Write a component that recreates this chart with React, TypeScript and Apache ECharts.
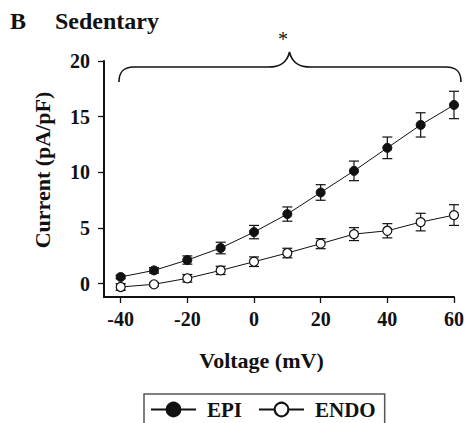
import React, { useEffect, useRef } from "react";
import * as echarts from "echarts";

const voltages = [-40, -30, -20, -10, 0, 10, 20, 30, 40, 50, 60];
const epiMean = [0.6, 1.19, 2.12, 3.2, 4.63, 6.25, 8.19, 10.13, 12.2, 14.26, 16.05];
const epiSem = [0.15, 0.25, 0.37, 0.52, 0.6, 0.64, 0.7, 0.88, 0.97, 1.09, 1.23];
const endoMean = [-0.3, -0.06, 0.48, 1.19, 1.97, 2.75, 3.59, 4.45, 4.75, 5.53, 6.16];
const endoSem = [0.3, 0.15, 0.34, 0.37, 0.43, 0.43, 0.45, 0.58, 0.64, 0.79, 0.93];
const xTicks = [-40, -20, 0, 20, 40, 60];
const yTicks = [0, 5, 10, 15, 20];

const FONT = "'Liberation Serif', 'Times New Roman', serif";
const INK = "#111";

const bracePath =
  "M119,82 C119,72 123,67 134,67 L268,67 C280,67 287,63 289.5,52 C292,63 299,67 311,67 L446,67 C457,67 461,72 461,82";

let registered = false;
function ensureShape() {
  if (registered) return;
  echarts.graphic.registerShape("brace", echarts.graphic.extendPath(bracePath, {}) as any);
  registered = true;
}

function errorSeries(mean: number[], sem: number[]) {
  return {
    type: "custom",
    z: 1,
    silent: true,
    data: voltages.map((v, i) => [v, mean[i] - sem[i], mean[i] + sem[i]]),
    renderItem: (params: any, api: any) => {
      const x = api.value(0);
      const lo = api.coord([x, api.value(1)]);
      const hi = api.coord([x, api.value(2)]);
      const cap = 5;
      const st = { stroke: INK, lineWidth: 1.2 };
      return {
        type: "group",
        children: [
          { type: "line", shape: { x1: lo[0], y1: lo[1], x2: hi[0], y2: hi[1] }, style: st },
          { type: "line", shape: { x1: hi[0] - cap, y1: hi[1], x2: hi[0] + cap, y2: hi[1] }, style: st },
          { type: "line", shape: { x1: lo[0] - cap, y1: lo[1], x2: lo[0] + cap, y2: lo[1] }, style: st },
        ],
      };
    },
  };
}

export default function App() {
  const ref = useRef<HTMLDivElement>(null);
  useEffect(() => {
    if (!ref.current) return;
    ensureShape();
    const chart = echarts.init(ref.current, undefined, { renderer: "svg" });
    chart.setOption({
      animation: false,
      backgroundColor: "#fff",
      title: [
        { text: "B", left: 5, top: 4, textStyle: { fontFamily: FONT, fontSize: 24, fontWeight: "bold", color: INK } },
        { text: "Sedentary", left: 50, top: 4, textStyle: { fontFamily: FONT, fontSize: 24, fontWeight: "bold", color: INK } },
      ],
      grid: { left: 104, right: 5, top: 61, bottom: 126 },
      xAxis: {
        type: "value",
        min: -45,
        max: 60,
        name: "Voltage (mV)",
        nameLocation: "middle",
        nameGap: 52,
        nameTextStyle: { fontFamily: FONT, fontSize: 22, fontWeight: "bold", color: INK, padding: [0, 35, 0, 0] },
        axisLine: { show: true, onZero: false, lineStyle: { color: INK, width: 2 } },
        axisTick: { show: true, customValues: xTicks, length: 6, lineStyle: { color: INK, width: 1.3 } },
        axisLabel: { customValues: xTicks, fontFamily: FONT, fontSize: 20, fontWeight: "bold", color: INK, margin: 12 },
        splitLine: { show: false },
      },
      yAxis: {
        type: "value",
        min: -1.2,
        max: 20,
        name: "Current (pA/pF)",
        nameLocation: "middle",
        nameGap: 51,
        nameRotate: 90,
        nameTextStyle: { fontFamily: FONT, fontSize: 22, fontWeight: "bold", color: INK, padding: [0, 0, 0, 18] },
        axisLine: { show: true, onZero: false, lineStyle: { color: INK, width: 2 } },
        axisTick: { show: true, customValues: yTicks, length: 6, lineStyle: { color: INK, width: 1.3 } },
        axisLabel: { customValues: yTicks, fontFamily: FONT, fontSize: 20, fontWeight: "bold", color: INK, margin: 14 },
        splitLine: { show: false },
      },
      legend: {
        data: ["EPI", "ENDO"],
        left: 144,
        top: 394,
        orient: "horizontal",
        borderColor: "#555",
        borderWidth: 1.5,
        padding: [5, 9, 30, 6],
        itemGap: 16,
        itemWidth: 45,
        itemHeight: 17,
        lineStyle: { width: 2 },
        textStyle: { fontFamily: FONT, fontSize: 21, fontWeight: "bold", color: INK, padding: [0, 0, 0, 6] },
      },
      graphic: [
        { type: "brace", x: 0, y: 0, silent: true, style: { fill: null, stroke: INK, lineWidth: 1.6 } },
        {
          type: "text",
          x: 283,
          y: 39,
          silent: true,
          style: { text: "*", font: `20px ${FONT}`, fill: INK, align: "center", verticalAlign: "middle" },
        },
      ],
      series: [
        errorSeries(epiMean, epiSem),
        errorSeries(endoMean, endoSem),
        {
          name: "EPI",
          type: "line",
          z: 3,
          data: voltages.map((v, i) => [v, epiMean[i]]),
          symbol: "circle",
          symbolSize: 9,
          lineStyle: { color: INK, width: 1 },
          itemStyle: { color: INK, borderColor: INK, borderWidth: 1 },
        },
        {
          name: "ENDO",
          type: "line",
          z: 3,
          data: voltages.map((v, i) => [v, endoMean[i]]),
          symbol: "circle",
          symbolSize: 9,
          lineStyle: { color: INK, width: 1 },
          itemStyle: { color: "#fff", borderColor: INK, borderWidth: 1.2 },
        },
      ],
    });
    return () => chart.dispose();
  }, []);
  return (
    <div
      ref={ref}
      style={{ position: "fixed", left: 0, top: 0, width: 467, height: 423, background: "#fff" }}
    />
  );
}
